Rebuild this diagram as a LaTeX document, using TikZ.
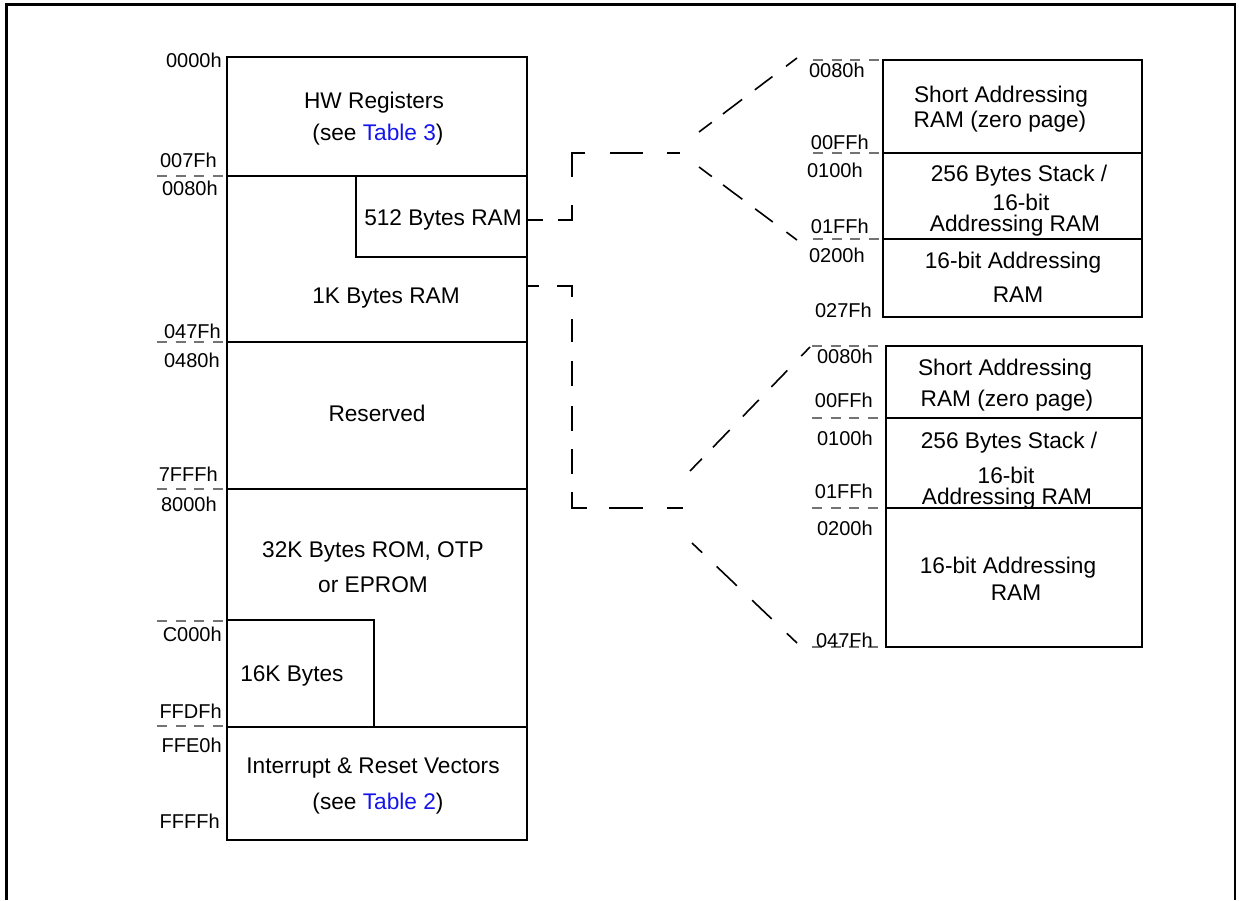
\documentclass[tikz,border=0pt]{standalone}
\usepackage{fontspec}
\setmainfont{Liberation Sans}
\definecolor{xref}{RGB}{20,20,235}
\begin{document}
\begin{tikzpicture}[x=0.75pt,y=-0.75pt,
  region/.style={draw=black, line width=1.2pt},
  frame/.style={draw=black, line width=2.2pt},
  tick/.style={draw=black!55, line width=0.8pt, dash pattern=on 7.5pt off 6.5pt},
  link/.style={draw=black, line width=1.2pt},
  addr/.style={font=\fontsize{15}{18}\selectfont, anchor=base east, inner sep=0pt},
  txt/.style={font=\fontsize{17}{20}\selectfont, anchor=base, inner sep=0pt},
]
\useasboundingbox (0,0) rectangle (1239,900);

% outer frame, open at the bottom
\draw[frame] (6.5,900) -- (6.5,4.5) -- (1235,4.5) -- (1235,900);

% ---------------- main memory map ----------------
\draw[region] (227,57) rectangle (527,840);
\draw[region] (227,176) -- (527,176);
\draw[region] (227,342) -- (527,342);
\draw[region] (227,489) -- (527,489);
\draw[region] (227,727) -- (527,727);
% 512 bytes sub-block
\draw[region] (356,176) -- (356,257) -- (527,257);
% 16K bytes sub-block
\draw[region] (227,620) -- (374,620) -- (374,727);

% boundary ticks
\foreach \yy in {176,342,489,621,726} \draw[tick] (157,\yy) -- (227,\yy);

\node[txt] (hwreg)  at (374,108) {HW Registers};
\node[txt] (hwref)  at (378,140) {(see \textcolor{xref}{Table 3})};
\node[txt] (ram512) at (443,225) {512 Bytes RAM};
\node[txt] (ram1k)  at (386,303) {1K Bytes RAM};
\node[txt] (resv)   at (377,421) {Reserved};
\node[txt] (rom1)   at (373,557) {32K Bytes ROM, OTP};
\node[txt] (rom2)   at (373,592) {or EPROM};
\node[txt, anchor=base west] (rom16) at (240,681) {16K Bytes};
\node[txt] (vec1)   at (373,773) {Interrupt \& Reset Vectors};
\node[txt] (vec2)   at (378,809) {(see \textcolor{xref}{Table 2})};

\node[addr] (a0000) at (222,67)  {0000h};
\node[addr] (a007F) at (217,167) {007Fh};
\node[addr] (a0080) at (218,195) {0080h};
\node[addr] (a047F) at (221,338) {047Fh};
\node[addr] (a0480) at (220,367) {0480h};
\node[addr] (a7FFF) at (218,481) {7FFFh};
\node[addr] (a8000) at (217,511) {8000h};
\node[addr] (aC000) at (222,641) {C000h};
\node[addr] (aFFDF) at (222,718) {FFDFh};
\node[addr] (aFFE0) at (222,752) {FFE0h};
\node[addr] (aFFFF) at (220,828) {FFFFh};

% ---------------- 512 byte RAM detail ----------------
\draw[region] (883,60) rectangle (1142,317);
\draw[region] (883,153) -- (1142,153);
\draw[region] (883,239) -- (1142,239);
\foreach \yy in {60,153,239} \draw[tick] (813,\yy) -- (883,\yy);

\node[txt] (sa1)  at (1001,102) {Short Addressing};
\node[txt] (sa2)  at (1000,127) {RAM (zero page)};
\node[txt] (st1)  at (1019,181) {256 Bytes Stack /};
\node[txt] (st2)  at (1021,210) {16-bit};
\node[txt] (st3)  at (1015,231) {Addressing RAM};
\node[txt] (wa1)  at (1013,268) {16-bit Addressing};
\node[txt] (wa2)  at (1018,302) {RAM};

\node[addr] (b0080) at (865,77)  {0080h};
\node[addr] (b00FF) at (869,149) {00FFh};
\node[addr] (b0100) at (863,177) {0100h};
\node[addr] (b01FF) at (869,233) {01FFh};
\node[addr] (b0200) at (865,262) {0200h};
\node[addr] (b027F) at (872,317) {027Fh};

% ---------------- 1K byte RAM detail ----------------
\draw[region] (886,346) rectangle (1142,647);
\draw[region] (886,418) -- (1142,418);
\draw[region] (886,508) -- (1142,508);
\foreach \yy in {346,418,508,647} \draw[tick] (812,\yy) -- (886,\yy);

\node[txt] (sb1)  at (1005,375) {Short Addressing};
\node[txt] (sb2)  at (1007,406) {RAM (zero page)};
\node[txt] (su1)  at (1009,448) {256 Bytes Stack /};
\node[txt] (su2)  at (1006,483) {16-bit};
\node[txt] (su3)  at (1007,504) {Addressing RAM};
\node[txt] (wb1)  at (1008,573) {16-bit Addressing};
\node[txt] (wb2)  at (1016,600) {RAM};

\node[addr] (c0080) at (873,363) {0080h};
\node[addr] (c00FF) at (873,407) {00FFh};
\node[addr] (c0100) at (873,445) {0100h};
\node[addr] (c01FF) at (873,498) {01FFh};
\node[addr] (c0200) at (873,535) {0200h};
\node[addr] (c047F) at (873,647) {047Fh};

% ---------------- expansion connectors ----------------
\coordinate (p1a) at (527,220);
\coordinate (p1b) at (572,220);
\coordinate (p1c) at (572,153);
\coordinate (p1d) at (680,153);
\coordinate (f1s) at (699,132);
\coordinate (f1t) at (797,58);
\coordinate (f1u) at (699,167);
\coordinate (f1v) at (797,240);

\coordinate (p2a) at (527,286);
\coordinate (p2b) at (572,286);
\coordinate (p2c) at (572,508);
\coordinate (p2d) at (683,508);
\coordinate (f2s) at (690,471);
\coordinate (f2t) at (810,347);
\coordinate (f2u) at (692,543);
\coordinate (f2v) at (797,643);

\draw[link, dash pattern=on 12pt off 11.25pt on 21.75pt off 21pt on 27.75pt off 18.75pt on 24.75pt off 18pt on 12pt off 30pt]
  (p1a) -- (p1b) -- (p1c) -- (p1d);
\draw[link, dash pattern=on 12pt off 10.5pt on 18pt off 12pt on 16.5pt off 12.75pt on 12pt off 30pt] (f1s) -- (f1t);
\draw[link, dash pattern=on 12pt off 10.5pt on 18pt off 12pt on 16.5pt off 12.75pt on 12pt off 30pt] (f1u) -- (f1v);

\draw[link, dash pattern=on 9pt off 13.5pt on 19.5pt off 16.5pt on 17.25pt off 14.25pt on 18.75pt off 15pt on 18.75pt off 13.5pt on 18.75pt off 13.5pt on 23.25pt off 16.5pt on 25.5pt off 18pt on 12pt off 30pt]
  (p2a) -- (p2b) -- (p2c) -- (p2d);
\draw[link, dash pattern=on 12.75pt off 12pt on 18pt off 14.25pt on 17.25pt off 13.5pt on 17.25pt off 15pt on 10pt off 30pt] (f2s) -- (f2t);
\draw[link, dash pattern=on 10.5pt off 15pt on 21pt off 15.75pt on 20.25pt off 15.75pt on 12pt off 30pt] (f2u) -- (f2v);
\end{tikzpicture}
\end{document}
